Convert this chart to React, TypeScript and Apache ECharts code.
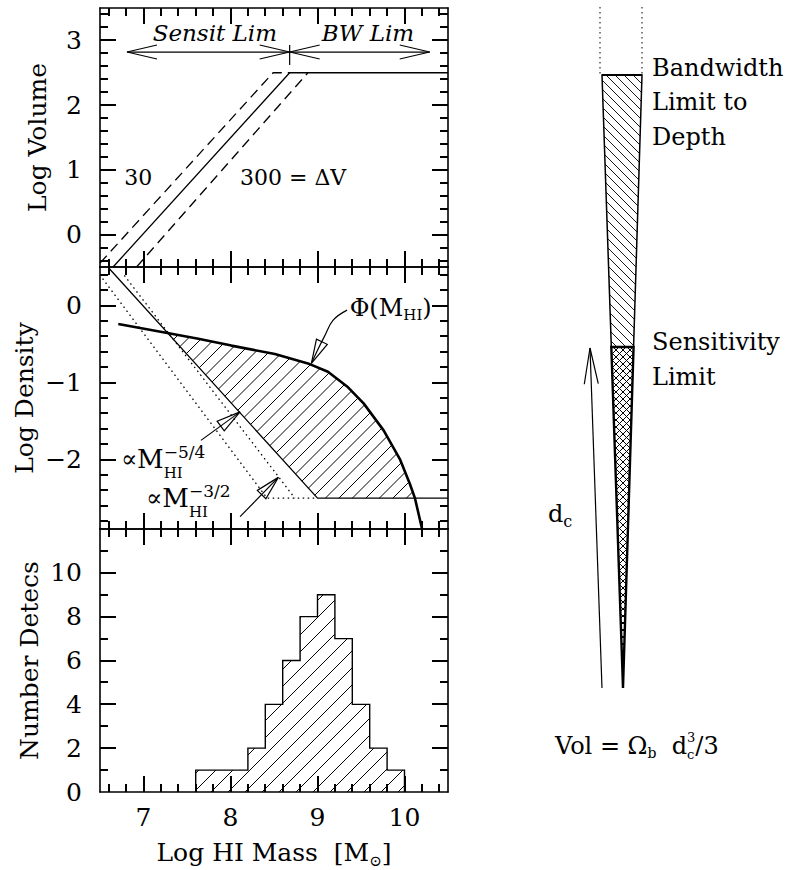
import React, { useEffect, useRef } from "react";
import * as echarts from "echarts";

// ---------------- axis values ----------------
const massRange = [6.5, 10.5];
const massMajorTicks = [7, 8, 9, 10];
const massMinorTicks = [6.6, 6.8, 7.2, 7.4, 7.6, 7.8, 8.2, 8.4, 8.6, 8.8, 9.2, 9.4, 9.6, 9.8, 10.2, 10.4];
const volumeRange = [-0.5, 3.5];
const volumeMajorTicks = [0, 1, 2, 3];
const volumeMinorTicks = [-0.4, -0.2, 0.2, 0.4, 0.6, 0.8, 1.2, 1.4, 1.6, 1.8, 2.2, 2.4, 2.6, 2.8, 3.2, 3.4];
const densityRange = [-2.9, 0.5];
const densityMajorTicks = [-2, -1, 0];
const densityMinorTicks = [-2.8, -2.6, -2.4, -2.2, -1.8, -1.6, -1.4, -1.2, -0.8, -0.6, -0.4, -0.2, 0.2, 0.4];
const countRange = [0, 12];
const countMajorTicks = [2, 4, 6, 8, 10];
const countLabels = [0, 2, 4, 6, 8, 10];
const countMinorTicks = [1, 3, 5, 7, 9, 11];

// ---------------- top panel: log volume ----------------
const volumeSolid = [[6.65, -0.5], [8.68, 2.5], [10.5, 2.5]];
const volumeDashed30 = [[6.5, -0.44], [8.49, 2.5], [8.68, 2.5]];
const volumeDashed300 = [[6.92, -0.5], [8.89, 2.5]];
const sensitArrow = [[6.81, 2.82], [8.68, 2.82]];
const bandwidthArrow = [[8.68, 2.82], [10.29, 2.82]];
const limitMarker = [[8.68, 2.93], [8.68, 2.62]];
const sensitLabelAt = [7.82, 3.11];
const bwLabelAt = [9.58, 3.11];
const v30LabelAt = [6.94, 0.875];
const v300LabelAt = [8.72, 0.875];

// ---------------- middle panel: log density ----------------
const phiCurve = [
  [6.71, -0.24], [7.29, -0.36], [7.63, -0.43], [8.01, -0.52], [8.51, -0.63], [8.91, -0.76],
  [9.12, -0.86], [9.34, -1.05], [9.53, -1.27], [9.76, -1.62], [9.95, -2.0], [10.06, -2.31],
  [10.12, -2.5], [10.2, -2.89],
];
const densityLimit = [[6.59, 0.5], [9.0, -2.5], [10.5, -2.5]];
const densityDotted30 = [[6.53, 0.35], [8.42, -2.5], [9.0, -2.5]];
const densityDotted300 = [[6.78, 0.39], [8.74, -2.5]];
const phiPointer = [[9.34, -0.06], [9.18, -0.19], [9.08, -0.4], [9.0, -0.58], [8.93, -0.75]];
const slope54Pointer = [[7.66, -1.75], [8.11, -1.38]];
const slope32Pointer = [[8.11, -2.74], [8.55, -2.23]];
const phiLabelAt = [9.37, -0.03];
const slope54LabelAt = [6.74, -1.99];
const slope32LabelAt = [7.03, -2.5];

// ---------------- bottom panel: histogram ----------------
const binEdges = [7.6, 7.8, 8.0, 8.2, 8.4, 8.6, 8.8, 9.0, 9.2, 9.4, 9.6, 9.8, 10.0];
const binCounts = [1, 1, 1, 2, 4, 6, 8, 9, 7, 4, 2, 1];

// ---------------- styling / layout ----------------
const INK = "#000";
const SERIF = '"DejaVu Serif", "Liberation Serif", serif';
const FONT_FAMILY = '"DejaVu Serif"';
const PLOT_LEFT = 100;
const PLOT_WIDTH = 348;
const PANEL_TOPS = [8, 267, 529];
const PANEL_HEIGHTS = [259, 262, 263];
const MAJOR_TICK_PX = 16;
const MINOR_TICK_PX = 8;

let measureCtx: any = null;
function textWidth(t: string, size: number, italic = false) {
  if (!measureCtx) measureCtx = document.createElement("canvas").getContext("2d");
  measureCtx.font = `${italic ? "italic " : ""}${size}px ${FONT_FAMILY}`;
  return measureCtx.measureText(t).width;
}

type Part = { t: string; s: number; dy?: number; it?: boolean; stack?: boolean };

function textEl(t: string, x: number, y: number, size: number, align = "left", italic = false) {
  return {
    type: "text",
    x,
    y,
    silent: true,
    style: {
      text: t,
      fill: INK,
      font: `${italic ? "italic " : ""}${size}px ${FONT_FAMILY}`,
      align,
      textAlign: align,
      verticalAlign: "middle",
      textVerticalAlign: "middle",
    },
  };
}

function composite(parts: Part[], x: number, y: number, align = "left") {
  const placed: any[] = [];
  let cursor = 0;
  let lastStart = 0;
  for (const p of parts) {
    const w = textWidth(p.t, p.s, p.it);
    let start;
    if (p.stack) {
      start = lastStart;
      cursor = Math.max(cursor, start + w);
    } else {
      start = cursor;
      lastStart = start;
      cursor = start + w;
    }
    placed.push({ p, start });
  }
  const x0 = align === "center" ? x - cursor / 2 : align === "right" ? x - cursor : x;
  return placed.map(({ p, start }) => textEl(p.t, x0 + start, y + (p.dy || 0), p.s, "left", !!p.it));
}

function seg(a: number[], b: number[], w = 1.2, dash?: number[]) {
  return {
    type: "line",
    silent: true,
    shape: { x1: a[0], y1: a[1], x2: b[0], y2: b[1] },
    style: { stroke: INK, lineWidth: w, lineDash: dash || null },
  };
}

function arrowHead(tip: number[], from: number[], len: number, half: number, closed = false, w = 1.2) {
  const dx = tip[0] - from[0];
  const dy = tip[1] - from[1];
  const L = Math.hypot(dx, dy) || 1;
  const ux = dx / L;
  const uy = dy / L;
  const bx = tip[0] - ux * len;
  const by = tip[1] - uy * len;
  const p1 = [bx - uy * half, by + ux * half];
  const p2 = [bx + uy * half, by - ux * half];
  return {
    type: closed ? "polygon" : "polyline",
    silent: true,
    shape: { points: [p1, tip, p2] },
    style: { stroke: INK, fill: closed ? "none" : null, lineWidth: w },
  };
}

// hatch line segments clipped to polygon; dir 1 => "/" , -1 => "\"
function hatchSegments(poly: number[][], dir: number, step: number) {
  const fs = poly.map((p) => p[0] + dir * p[1]);
  const lo = Math.min(...fs);
  const hi = Math.max(...fs);
  const segs: number[][][] = [];
  for (let c = Math.ceil(lo / step) * step; c <= hi; c += step) {
    const pts: number[][] = [];
    for (let i = 0; i < poly.length; i++) {
      const k = (i + 1) % poly.length;
      const fa = fs[i] - c;
      const fb = fs[k] - c;
      if ((fa < 0 && fb >= 0) || (fa >= 0 && fb < 0)) {
        const t = fa / (fa - fb);
        pts.push([poly[i][0] + t * (poly[k][0] - poly[i][0]), poly[i][1] + t * (poly[k][1] - poly[i][1])]);
      }
    }
    pts.sort((p, q) => p[0] - q[0]);
    for (let m = 0; m + 1 < pts.length; m += 2) segs.push([pts[m], pts[m + 1]]);
  }
  return segs;
}

function segIntersect(p: number[], p2: number[], q: number[], q2: number[]) {
  const rx = p2[0] - p[0], ry = p2[1] - p[1], sx = q2[0] - q[0], sy = q2[1] - q[1];
  const den = rx * sy - ry * sx;
  if (Math.abs(den) < 1e-12) return null;
  const t = ((q[0] - p[0]) * sy - (q[1] - p[1]) * sx) / den;
  const u = ((q[0] - p[0]) * ry - (q[1] - p[1]) * rx) / den;
  if (t < 0 || t > 1 || u < 0 || u > 1) return null;
  return { t, u, pt: [p[0] + t * rx, p[1] + t * ry] };
}

// region between an upper curve and a lower curve (between their outermost crossings)
function regionBetween(upper: number[][], lower: number[][]) {
  const hits: any[] = [];
  for (let i = 0; i < upper.length - 1; i++)
    for (let j = 0; j < lower.length - 1; j++) {
      const h = segIntersect(upper[i], upper[i + 1], lower[j], lower[j + 1]);
      if (h) hits.push({ i, j, ...h });
    }
  hits.sort((a, b) => a.i + a.t - (b.i + b.t));
  const a = hits[0];
  const b = hits[hits.length - 1];
  const poly = [a.pt];
  for (let k = a.i + 1; k <= b.i; k++) poly.push(upper[k]);
  poly.push(b.pt);
  for (let k = b.j; k >= a.j + 1; k--) poly.push(lower[k]);
  return poly;
}

const shadedDensity = regionBetween(phiCurve, densityLimit);

function histogramOutline(edges: number[], counts: number[]) {
  const pts = [[edges[0], 0]];
  counts.forEach((c, i) => {
    pts.push([edges[i], c]);
    pts.push([edges[i + 1], c]);
  });
  pts.push([edges[edges.length - 1], 0]);
  return pts;
}

// inward frame ticks, positioned by the same linear mapping as the grids
const tickPanels = [
  { yr: volumeRange, yMaj: volumeMajorTicks, yMin: volumeMinorTicks },
  { yr: densityRange, yMaj: densityMajorTicks, yMin: densityMinorTicks },
  { yr: countRange, yMaj: countMajorTicks, yMin: countMinorTicks },
];
function frameTickGraphics() {
  const out: any[] = [];
  tickPanels.forEach((pn, i) => {
    const top = PANEL_TOPS[i];
    const bottom = top + PANEL_HEIGHTS[i];
    const left = PLOT_LEFT;
    const right = PLOT_LEFT + PLOT_WIDTH;
    const xPx = (v: number) => Math.round(left + ((v - massRange[0]) / (massRange[1] - massRange[0])) * PLOT_WIDTH);
    const yPx = (v: number) => Math.round(bottom - ((v - pn.yr[0]) / (pn.yr[1] - pn.yr[0])) * PANEL_HEIGHTS[i]);
    const xt = (vals: number[], len: number) =>
      vals.forEach((v) => {
        const x = xPx(v);
        out.push(seg([x, bottom], [x, bottom - len], 2));
        out.push(seg([x, top], [x, top + len], 2));
      });
    const yt = (vals: number[], len: number) =>
      vals.forEach((v) => {
        const y = yPx(v);
        out.push(seg([left, y], [left + len, y], 2));
        out.push(seg([right, y], [right - len, y], 2));
      });
    xt(massMajorTicks, MAJOR_TICK_PX);
    xt(massMinorTicks, MINOR_TICK_PX);
    yt(pn.yMaj, MAJOR_TICK_PX);
    yt(pn.yMin, MINOR_TICK_PX);
  });
  return out;
}

// ---------------- axes ----------------
const axisLineStyle = { color: INK, width: 1.6 };
const minusFmt = (v: number) => String(v).replace("-", "−");

function axisPair(dim: string, gridIndex: number, range: number[], labels: number[] | null, name: string | null, nameGap: number) {
  const sides = dim === "x" ? ["bottom", "top"] : ["left", "right"];
  return sides.map((pos, si) => {
    const isMain = si === 0;
    const ax: any = {
      type: "value",
      gridIndex,
      position: pos,
      min: range[0],
      max: range[1],
      axisLine: { show: true, onZero: false, lineStyle: axisLineStyle },
      axisTick: { show: false },
      axisLabel:
        isMain && labels
          ? { show: true, customValues: labels, formatter: minusFmt, margin: dim === "x" ? 13 : 18, color: INK, fontFamily: SERIF, fontSize: 25 }
          : { show: false },
      splitLine: { show: false },
      minorTick: { show: false },
      axisPointer: { show: false },
    };
    if (isMain && name) {
      ax.name = name;
      ax.nameLocation = "middle";
      ax.nameGap = nameGap;
      ax.nameRotate = dim === "y" ? 90 : 0;
      ax.nameTextStyle = { color: INK, fontFamily: SERIF, fontSize: 25 };
    }
    return ax;
  });
}

function lineSeries(data: any[], xi: number, width: number, type: any, z = 5) {
  return {
    type: "line",
    xAxisIndex: xi,
    yAxisIndex: xi,
    data,
    symbol: "none",
    showSymbol: false,
    silent: true,
    z,
    lineStyle: { color: INK, width, type, cap: "butt" },
    emphasis: { disabled: true },
  };
}

function buildGraphics() {
  const coneTL = [602, 75], coneTR = [642, 75], coneApex = [623, 688], splitY = 347;
  const sideX = (top: number[], y: number) => top[0] + (coneApex[0] - top[0]) * ((y - top[1]) / (coneApex[1] - top[1]));
  const upper = [coneTL, coneTR, [sideX(coneTR, splitY), splitY], [sideX(coneTL, splitY), splitY]];
  const lower = [[sideX(coneTL, splitY), splitY], [sideX(coneTR, splitY), splitY], coneApex];
  const g: any[] = [];
  g.push(...frameTickGraphics());
  g.push(seg([600, 7], [600, 75], 1, [1.5, 3.5]));
  g.push(seg([642, 7], [642, 75], 1, [1.5, 3.5]));
  hatchSegments(upper, -1, 9).forEach(([a, b]) => g.push(seg(a, b, 0.9)));
  hatchSegments(lower, -1, 7).forEach(([a, b]) => g.push(seg(a, b, 1)));
  hatchSegments(lower, 1, 7).forEach(([a, b]) => g.push(seg(a, b, 1)));
  g.push({ type: "polygon", silent: true, shape: { points: upper }, style: { stroke: INK, fill: null, lineWidth: 1.5 } });
  g.push({ type: "polygon", silent: true, shape: { points: lower }, style: { stroke: INK, fill: null, lineWidth: 2.4 } });
  g.push(seg(coneTL, coneTR, 2));
  g.push(seg([602, 688], [590, 348], 1.2));
  g.push(arrowHead([590, 348], [602, 688], 36, 7));
  g.push(...composite([{ t: "d", s: 24 }, { t: "c", s: 16, dy: 7 }], 548, 514));
  g.push(textEl("Bandwidth", 652, 68, 24));
  g.push(textEl("Limit to", 652, 102, 24));
  g.push(textEl("Depth", 652, 137, 24));
  g.push(textEl("Sensitivity", 652, 342, 24));
  g.push(textEl("Limit", 652, 377, 24));
  g.push(
    ...composite(
      [
        { t: "Vol = Ω", s: 24 },
        { t: "b", s: 14, dy: 7 },
        { t: "  d", s: 24 },
        { t: "c", s: 13, dy: 8 },
        { t: "3", s: 13, dy: -9, stack: true },
        { t: "/3", s: 24 },
      ],
      555, 746
    )
  );
  g.push(...composite([{ t: "Log HI Mass  [M", s: 25 }, { t: "⊙", s: 15, dy: 9 }, { t: "]", s: 25 }], 274, 852, "center"));
  return g;
}

function buildOption() {
  const grids = PANEL_TOPS.map((top, i) => ({ left: PLOT_LEFT, top, width: PLOT_WIDTH, height: PANEL_HEIGHTS[i] }));
  const xAxes = [
    ...axisPair("x", 0, massRange, null, null, 0),
    ...axisPair("x", 1, massRange, null, null, 0),
    ...axisPair("x", 2, massRange, massMajorTicks, null, 0),
  ];
  const yAxes = [
    ...axisPair("y", 0, volumeRange, volumeMajorTicks, "Log Volume", 50),
    ...axisPair("y", 1, densityRange, densityMajorTicks, "Log Density", 63),
    ...axisPair("y", 2, countRange, countLabels, "Number Detecs", 58),
  ];

  const topAnnotations = {
    type: "custom",
    xAxisIndex: 0,
    yAxisIndex: 0,
    data: [[8, 1]],
    silent: true,
    clip: false,
    z: 6,
    renderItem: (_p: any, api: any) => {
      const c = (v: number[]) => api.coord(v);
      const s0 = c(sensitArrow[0]), s1 = c(sensitArrow[1]);
      const b0 = c(bandwidthArrow[0]), b1 = c(bandwidthArrow[1]);
      const children: any[] = [
        seg(s0, s1, 1.2),
        arrowHead(s0, s1, 30, 7),
        arrowHead(s1, s0, 30, 7),
        seg(b0, b1, 1.2),
        arrowHead(b0, b1, 30, 7),
        arrowHead(b1, b0, 30, 7),
        seg(c(limitMarker[0]), c(limitMarker[1]), 1.2),
      ];
      const sl = c(sensitLabelAt), bl = c(bwLabelAt), l30 = c(v30LabelAt), l300 = c(v300LabelAt);
      children.push(textEl("Sensit Lim", sl[0], sl[1], 23, "center", true));
      children.push(textEl("BW Lim", bl[0], bl[1], 23, "center", true));
      children.push(textEl("30", l30[0], l30[1], 22, "center"));
      children.push(textEl("300 = ΔV", l300[0], l300[1], 22, "center"));
      return { type: "group", children };
    },
  };

  const densityHatch = {
    type: "custom",
    xAxisIndex: 2,
    yAxisIndex: 2,
    data: [[8, -1]],
    silent: true,
    clip: true,
    z: 3,
    renderItem: (_p: any, api: any) => {
      const poly = shadedDensity.map((p) => api.coord(p));
      const children = hatchSegments(poly, 1, 13.5).map(([a, b]) => seg(a, b, 1));
      return { type: "group", children };
    },
  };

  const densityAnnotations = {
    type: "custom",
    xAxisIndex: 2,
    yAxisIndex: 2,
    data: [[8, -1]],
    silent: true,
    clip: false,
    z: 6,
    renderItem: (_p: any, api: any) => {
      const c = (v: number[]) => api.coord(v);
      const pp = phiPointer.map(c);
      const a0 = c(slope54Pointer[0]), a1 = c(slope54Pointer[1]);
      const d0 = c(slope32Pointer[0]), d1 = c(slope32Pointer[1]);
      const children: any[] = [
        { type: "polyline", silent: true, shape: { points: pp, smooth: 0.4 }, style: { stroke: INK, lineWidth: 1.2, fill: null } },
        arrowHead(pp[pp.length - 1], pp[pp.length - 3], 24, 6, true),
        seg(a0, a1, 1.2),
        arrowHead(a1, a0, 24, 6, true),
        seg(d0, d1, 1.2),
        arrowHead(d1, d0, 24, 6, true),
      ];
      const pl = c(phiLabelAt);
      children.push(...composite([{ t: "Φ(M", s: 24 }, { t: "HI", s: 15, dy: 7 }, { t: ")", s: 24 }], pl[0], pl[1]));
      const l54 = c(slope54LabelAt);
      children.push(
        ...composite(
          [{ t: "∝", s: 24 }, { t: "M", s: 26 }, { t: "−5/4", s: 17, dy: -7 }, { t: "HI", s: 15, dy: 14, stack: true }],
          l54[0], l54[1]
        )
      );
      const l32 = c(slope32LabelAt);
      children.push(
        ...composite(
          [{ t: "∝", s: 24 }, { t: "M", s: 26 }, { t: "−3/2", s: 17, dy: -7 }, { t: "HI", s: 15, dy: 14, stack: true }],
          l32[0], l32[1]
        )
      );
      return { type: "group", children };
    },
  };

  const histogram = {
    type: "custom",
    xAxisIndex: 4,
    yAxisIndex: 4,
    data: [[9, 5]],
    silent: true,
    clip: true,
    z: 4,
    renderItem: (_p: any, api: any) => {
      const poly = histogramOutline(binEdges, binCounts).map((p) => api.coord(p));
      const children: any[] = hatchSegments(poly, 1, 17).map(([a, b]) => seg(a, b, 1));
      children.push({ type: "polyline", silent: true, shape: { points: poly }, style: { stroke: INK, lineWidth: 1.4, fill: null } });
      return { type: "group", children };
    },
  };

  return {
    animation: false,
    backgroundColor: "#ffffff",
    grid: grids,
    xAxis: xAxes,
    yAxis: yAxes,
    tooltip: { show: false },
    series: [
      topAnnotations,
      lineSeries(volumeSolid, 0, 1.3, "solid"),
      lineSeries(volumeDashed30, 0, 1.3, [10, 6]),
      lineSeries(volumeDashed300, 0, 1.3, [10, 6]),
      densityHatch,
      lineSeries(densityLimit, 2, 1.3, "solid"),
      lineSeries(densityDotted30, 2, 1.3, [1.5, 3.5]),
      lineSeries(densityDotted300, 2, 1.3, [1.5, 3.5]),
      lineSeries(phiCurve, 2, 2.6, "solid"),
      densityAnnotations,
      histogram,
    ],
    graphic: { elements: buildGraphics() },
  };
}

export default function App() {
  const ref = useRef<HTMLDivElement>(null);
  useEffect(() => {
    const chart = echarts.init(ref.current as HTMLDivElement, null, { renderer: "svg" });
    chart.setOption(buildOption() as any);
    return () => chart.dispose();
  }, []);
  return <div ref={ref} style={{ position: "absolute", left: 0, top: 0, width: 786, height: 870, background: "#fff" }} />;
}
